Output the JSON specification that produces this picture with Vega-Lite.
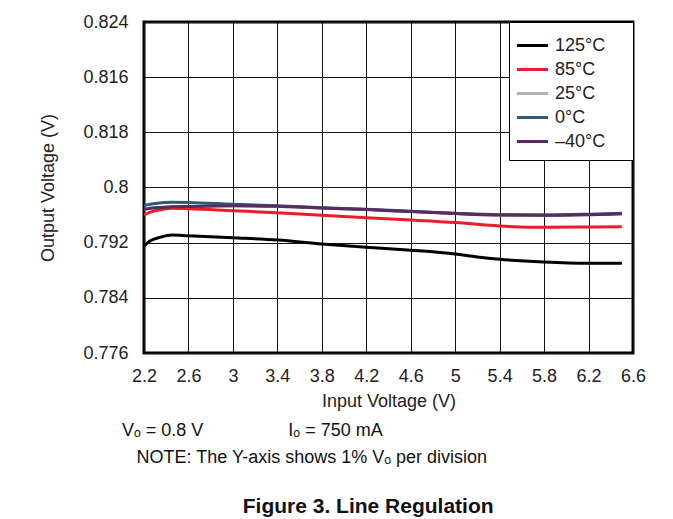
{
  "$schema": "https://vega.github.io/schema/vega-lite/v6.json",
  "width": 489,
  "height": 331,
  "autosize": {"type": "none"},
  "padding": {"left": 144, "top": 22, "right": 40, "bottom": 166},
  "background": "white",
  "config": {
    "font": "Liberation Sans",
    "view": {"stroke": "black", "strokeWidth": 3},
    "axis": {
      "labelFont": "Liberation Sans",
      "titleFont": "Liberation Sans",
      "labelFontSize": 18,
      "titleFontSize": 18,
      "titleFontWeight": "normal",
      "labelColor": "#222",
      "titleColor": "#222",
      "domain": false,
      "ticks": false,
      "tickSize": 0,
      "grid": true,
      "gridColor": "#111",
      "gridWidth": 1,
      "gridOpacity": 1
    },
    "legend": {
      "labelFont": "Liberation Sans",
      "labelFontSize": 18,
      "labelColor": "#222"
    }
  },
  "title": {
    "text": ["Vₒ = 0.8 V\u00a0\u00a0\u00a0\u00a0\u00a0\u00a0\u00a0\u00a0\u00a0\u00a0\u00a0\u00a0\u00a0\u00a0\u00a0\u00a0\u00a0Iₒ = 750 mA", "\u200b\u2007\u2005NOTE: The Y-axis shows 1% Vₒ per division"],
    "subtitle": "\u200b\u2003\u2003\u2003\u2003\u2003\u2002\u2005Figure 3. Line Regulation",
    "orient": "bottom",
    "anchor": "start",
    "frame": "group",
    "align": "left",
    "dx": -22,
    "offset": 12,
    "font": "Liberation Sans",
    "fontSize": 18,
    "fontWeight": "normal",
    "lineHeight": 27,
    "color": "#111",
    "subtitleFont": "Liberation Sans",
    "subtitleFontSize": 21,
    "subtitleFontWeight": "bold",
    "subtitleColor": "#111",
    "subtitlePadding": 29
  },
  "data": {
    "values": [
      {"series": "25°C", "x": 2.2, "v": 0.79684},
      {"series": "25°C", "x": 2.3, "v": 0.79705},
      {"series": "25°C", "x": 2.45, "v": 0.79722},
      {"series": "25°C", "x": 2.6, "v": 0.79725},
      {"series": "25°C", "x": 3.0, "v": 0.79735},
      {"series": "25°C", "x": 3.4, "v": 0.79728},
      {"series": "25°C", "x": 3.8, "v": 0.79702},
      {"series": "25°C", "x": 4.2, "v": 0.7968},
      {"series": "25°C", "x": 4.6, "v": 0.79651},
      {"series": "25°C", "x": 5.0, "v": 0.79622},
      {"series": "25°C", "x": 5.4, "v": 0.79601},
      {"series": "25°C", "x": 5.8, "v": 0.79597},
      {"series": "25°C", "x": 6.2, "v": 0.79606},
      {"series": "25°C", "x": 6.5, "v": 0.79618},

      {"series": "125°C", "x": 2.2, "v": 0.79152},
      {"series": "125°C", "x": 2.25, "v": 0.7922},
      {"series": "125°C", "x": 2.35, "v": 0.7928},
      {"series": "125°C", "x": 2.45, "v": 0.79311},
      {"series": "125°C", "x": 2.6, "v": 0.79301},
      {"series": "125°C", "x": 3.0, "v": 0.79272},
      {"series": "125°C", "x": 3.4, "v": 0.79239},
      {"series": "125°C", "x": 3.8, "v": 0.79181},
      {"series": "125°C", "x": 4.2, "v": 0.79133},
      {"series": "125°C", "x": 4.6, "v": 0.7909},
      {"series": "125°C", "x": 5.0, "v": 0.79035},
      {"series": "125°C", "x": 5.2, "v": 0.78993},
      {"series": "125°C", "x": 5.4, "v": 0.7896},
      {"series": "125°C", "x": 5.8, "v": 0.7892},
      {"series": "125°C", "x": 6.2, "v": 0.78901},
      {"series": "125°C", "x": 6.5, "v": 0.789},

      {"series": "85°C", "x": 2.2, "v": 0.79601},
      {"series": "85°C", "x": 2.25, "v": 0.7964},
      {"series": "85°C", "x": 2.35, "v": 0.79678},
      {"series": "85°C", "x": 2.45, "v": 0.79698},
      {"series": "85°C", "x": 2.6, "v": 0.79692},
      {"series": "85°C", "x": 3.0, "v": 0.79663},
      {"series": "85°C", "x": 3.4, "v": 0.79634},
      {"series": "85°C", "x": 3.8, "v": 0.79597},
      {"series": "85°C", "x": 4.2, "v": 0.79562},
      {"series": "85°C", "x": 4.6, "v": 0.79529},
      {"series": "85°C", "x": 5.0, "v": 0.79492},
      {"series": "85°C", "x": 5.4, "v": 0.79442},
      {"series": "85°C", "x": 5.8, "v": 0.79423},
      {"series": "85°C", "x": 6.2, "v": 0.79427},
      {"series": "85°C", "x": 6.5, "v": 0.79432},

      {"series": "0°C", "x": 2.2, "v": 0.79742},
      {"series": "0°C", "x": 2.3, "v": 0.79768},
      {"series": "0°C", "x": 2.45, "v": 0.79785},
      {"series": "0°C", "x": 2.6, "v": 0.79782},
      {"series": "0°C", "x": 3.0, "v": 0.79758},
      {"series": "0°C", "x": 3.4, "v": 0.79736},
      {"series": "0°C", "x": 3.8, "v": 0.79707},
      {"series": "0°C", "x": 4.2, "v": 0.79684},
      {"series": "0°C", "x": 4.6, "v": 0.79655},
      {"series": "0°C", "x": 5.0, "v": 0.79626},
      {"series": "0°C", "x": 5.4, "v": 0.79605},
      {"series": "0°C", "x": 5.8, "v": 0.79601},
      {"series": "0°C", "x": 6.2, "v": 0.79613},
      {"series": "0°C", "x": 6.5, "v": 0.79628},

      {"series": "–40°C", "x": 2.2, "v": 0.79684},
      {"series": "–40°C", "x": 2.3, "v": 0.79705},
      {"series": "–40°C", "x": 2.45, "v": 0.79722},
      {"series": "–40°C", "x": 2.6, "v": 0.79725},
      {"series": "–40°C", "x": 3.0, "v": 0.79735},
      {"series": "–40°C", "x": 3.4, "v": 0.79728},
      {"series": "–40°C", "x": 3.8, "v": 0.79702},
      {"series": "–40°C", "x": 4.2, "v": 0.7968},
      {"series": "–40°C", "x": 4.6, "v": 0.79651},
      {"series": "–40°C", "x": 5.0, "v": 0.79622},
      {"series": "–40°C", "x": 5.4, "v": 0.79601},
      {"series": "–40°C", "x": 5.8, "v": 0.79597},
      {"series": "–40°C", "x": 6.2, "v": 0.79606},
      {"series": "–40°C", "x": 6.5, "v": 0.79618}
    ]
  },
  "mark": {"type": "line", "strokeWidth": 3, "interpolate": "monotone", "clip": true},
  "encoding": {
    "x": {
      "field": "x",
      "type": "quantitative",
      "scale": {"domain": [2.2, 6.6], "nice": false, "zero": false},
      "axis": {
        "values": [2.2, 2.6, 3.0, 3.4, 3.8, 4.2, 4.6, 5.0, 5.4, 5.8, 6.2, 6.6],
        "format": ".1~f",
        "title": "Input Voltage (V)",
        "labelPadding": 14,
        "titlePadding": 7,
        "labelFlush": false
      }
    },
    "y": {
      "field": "v",
      "type": "quantitative",
      "scale": {"domain": [0.776, 0.824], "nice": false, "zero": false},
      "axis": {
        "values": [0.776, 0.784, 0.792, 0.8, 0.808, 0.816, 0.824],
        "format": ".3~f",
        "labelExpr": "abs(datum.value - 0.808) < 0.000001 ? '0.818' : datum.label",
        "title": "Output Voltage (V)",
        "labelPadding": 16,
        "titlePadding": 25,
        "labelFlush": false
      }
    },
    "color": {
      "field": "series",
      "type": "nominal",
      "scale": {
        "domain": ["125°C", "85°C", "25°C", "0°C", "–40°C"],
        "range": ["#000000", "#ee1c2a", "#b3b3b3", "#2c5c79", "#5b2a63"]
      },
      "legend": {
        "title": null,
        "orient": "top-right",
        "offset": 0,
        "fillColor": "white",
        "strokeColor": "black",
        "padding": 9,
        "symbolType": "M-1.2,0H1.2",
        "symbolSize": 676,
        "symbolStrokeWidth": 3,
        "rowPadding": 0,
        "labelOffset": 8,
        "labelExpr": "datum.label + '\u2003\u200b'"
      }
    }
  }
}
